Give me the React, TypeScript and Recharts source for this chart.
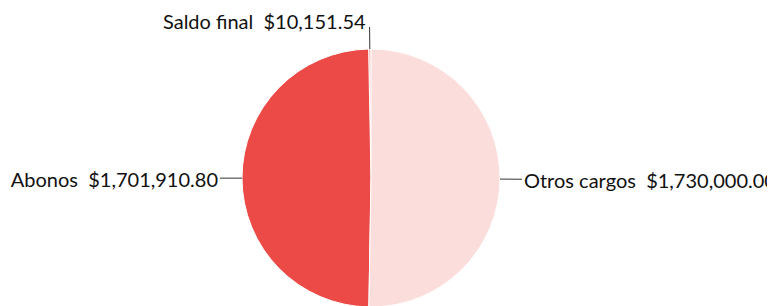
import React from "react";
import { PieChart, Pie, Cell } from "recharts";

const names = ["Saldo final", "Abonos", "Otros cargos"];
const values = [10151.54, 1701910.8, 1730000.0];
const colors = ["#F2A7A5", "#EB4A47", "#FBDEDC"];

const data = names.map((n, i) => ({ name: n, value: values[i] }));

const fmt = (v: number) =>
  "$" + v.toLocaleString("en-US", { minimumFractionDigits: 2, maximumFractionDigits: 2 });

const RAD = Math.PI / 180;

const renderLabel = (props: any) => {
  const { cx, cy, midAngle, outerRadius, name, value } = props;
  const cos = Math.cos(-midAngle * RAD);
  const sin = Math.sin(-midAngle * RAD);
  const sx = cx + outerRadius * cos;
  const sy = cy + outerRadius * sin;
  const ex = cx + (outerRadius + 22) * cos;
  const ey = cy + (outerRadius + 22) * sin;
  const vertical = Math.abs(sin) > 0.7;
  let tx: number, ty: number, anchor: "start" | "end";
  if (vertical) {
    tx = ex - 4;
    ty = ey - 6;
    anchor = "end";
  } else if (cos >= 0) {
    tx = ex + 2;
    ty = ey + 1;
    anchor = "start";
  } else {
    tx = ex - 2;
    ty = ey + 1;
    anchor = "end";
  }
  return (
    <g>
      <line x1={sx} y1={sy} x2={ex} y2={ey} stroke="#333" strokeWidth={1} />
      <text
        x={tx}
        y={ty}
        textAnchor={anchor}
        dominantBaseline="central"
        fill="#111"
        fontSize={20}
        fontFamily="Lato"
        style={{ whiteSpace: "pre" }}
      >
        {name + "\u00A0\u00A0" + fmt(value)}
      </text>
    </g>
  );
};

export default function App() {
  return (
    <div style={{ width: 767, height: 298, overflow: "hidden" }}>
      <PieChart width={767} height={298} margin={{ top: 0, right: 0, bottom: 0, left: 0 }}>
        <Pie
          data={data}
          dataKey="value"
          nameKey="name"
          cx={363}
          cy={170}
          outerRadius={129}
          startAngle={90}
          endAngle={450}
          stroke="#fff"
          strokeWidth={1}
          label={renderLabel}
          labelLine={false}
          isAnimationActive={false}
        >
          {data.map((d, i) => (
            <Cell key={d.name} fill={colors[i]} />
          ))}
        </Pie>
      </PieChart>
    </div>
  );
}
